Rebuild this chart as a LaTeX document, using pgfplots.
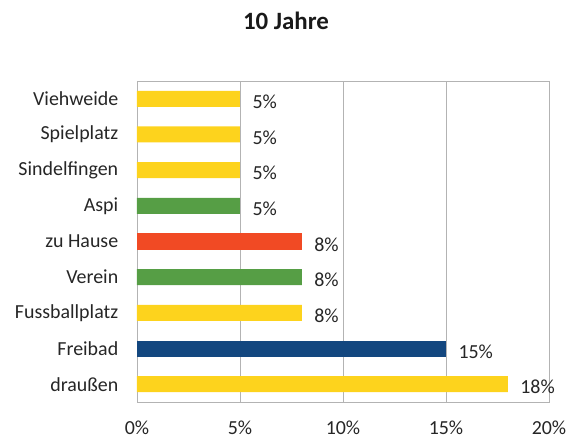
\documentclass[border=0pt]{standalone}
\usepackage{fontspec}
\setmainfont{Carlito}
\usepackage{pgfplots}
\pgfplotsset{compat=1.18}
\definecolor{cyellow}{HTML}{FDD31D}
\definecolor{cgreen}{HTML}{569E45}
\definecolor{cred}{HTML}{F14A24}
\definecolor{cblue}{HTML}{13477F}
\definecolor{gridgray}{HTML}{B3B3B3}
\begin{document}
\begin{tikzpicture}
\begin{axis}[
  at={(0,0)}, anchor=south west,
  scale only axis, width=412bp, height=321bp,
  xbar, bar width=16bp, bar shift=0pt,
  xmin=0, xmax=20, xtick={0,5,10,15,20},
  xticklabel={\pgfmathprintnumber{\tick}\%},
  ymin=-0.5, ymax=8.5, ytick={0,...,8},
  yticklabels={draußen,Freibad,Fussballplatz,Verein,zu Hause,Aspi,Sindelfingen,Spielplatz,Viehweide},
  tick style={draw=none},
  axis line style={draw=gridgray, line width=1pt},
  xmajorgrids, grid style={draw=gridgray, line width=1pt},
  ymajorgrids=false,
  ticklabel style={font=\fontsize{20}{23}\selectfont, text=black!85},
  /pgf/number format/assume math mode=true,
  xticklabel style={yshift=-15bp},
  yticklabel style={xshift=-11bp},
  nodes near coords={\pgfmathprintnumber{\pgfplotspointmeta}\%},
  nodes near coords style={anchor=west, xshift=9bp, yshift=-3bp, font=\fontsize{20}{23}\selectfont, text=black!85},
  point meta=explicit,
]
\addplot[fill=cyellow, draw=none] coordinates {(18,0) [18] (8,2) [8] (5,6) [5] (5,7) [5] (5,8) [5]};
\addplot[fill=cblue, draw=none] coordinates {(15,1) [15]};
\addplot[fill=cgreen, draw=none] coordinates {(8,3) [8] (5,5) [5]};
\addplot[fill=cred, draw=none] coordinates {(8,4) [8]};
\end{axis}
\node[font=\bfseries\fontsize{25}{28}\selectfont, text=black!90] at (149bp,381bp) {10 Jahre};
\pgfresetboundingbox
\useasboundingbox (-137bp,-38bp) rectangle (441bp,402bp);
\end{tikzpicture}
\end{document}
